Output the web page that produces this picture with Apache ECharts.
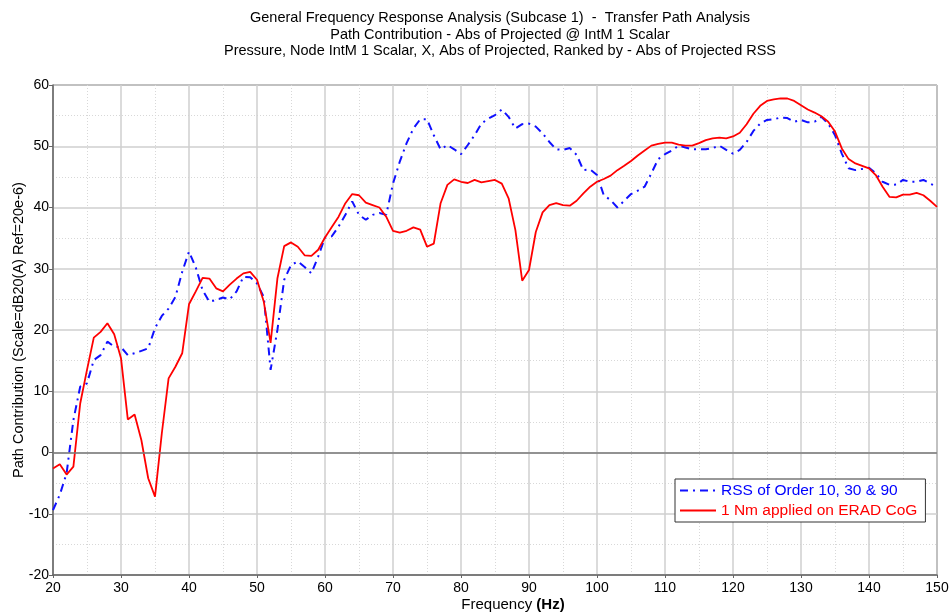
<!DOCTYPE html>
<html>
<head>
<meta charset="utf-8">
<script src="https://cdn.jsdelivr.net/npm/echarts@6/dist/echarts.min.js"></script>
<style>
  html, body { margin: 0; padding: 0; background: #fff; }
  #chart { width: 952px; height: 612px; }
</style>
</head>
<body>
<div id="chart"></div>
<script>
// Frequency samples (Hz)
const freqHz = [
  20, 21, 22, 23, 24, 25, 26, 27, 28, 29,
  30, 31, 32, 33, 34, 35, 36, 37, 38, 39,
  40, 41, 42, 43, 44, 45, 46, 47, 48, 49,
  50, 51, 52, 53, 54, 55, 56, 57, 58, 59,
  60, 61, 62, 63, 64, 65, 66, 67, 68, 69,
  70, 71, 72, 73, 74, 75, 76, 77, 78, 79,
  80, 81, 82, 83, 84, 85, 86, 87, 88, 89,
  90, 91, 92, 93, 94, 95, 96, 97, 98, 99,
  100, 101, 102, 103, 104, 105, 106, 107, 108, 109,
  110, 111, 112, 113, 114, 115, 116, 117, 118, 119,
  120, 121, 122, 123, 124, 125, 126, 127, 128, 129,
  130, 131, 132, 133, 134, 135, 136, 137, 138, 139,
  140, 141, 142, 143, 144, 145, 146, 147, 148, 149,
  150
];

// RSS of Order 10, 30 & 90 (dB)
const rssOrders = [
  -9.4, -6.9, -3.4, 5.3, 10.75, 11.3, 15.1, 15.9, 18.1, 17.3,
  17.2, 15.9, 16.2, 16.6, 17.0, 20.3, 22.3, 23.5, 25.4, 29.5,
  32.8, 30.2, 26.5, 24.6, 24.9, 25.3, 25.0, 26.3, 28.7, 28.6,
  27.6, 25.4, 13.5, 20.0, 28.2, 30.6, 31.2, 30.3, 29.25, 32.0,
  35.1, 35.3, 36.9, 38.8, 41.0, 38.8, 38.0, 38.8, 39.1, 38.8,
  43.9, 47.5, 50.5, 52.9, 54.4, 54.4, 51.8, 49.5, 50.2, 49.5,
  48.7, 50.2, 51.8, 53.7, 54.5, 55.1, 56.0, 54.8, 52.9, 53.6,
  53.7, 53.2, 52.1, 50.7, 49.5, 49.4, 49.7, 48.6, 46.1, 46.2,
  45.3, 42.0, 41.2, 40.0, 41.1, 42.2, 42.75, 43.4, 45.6, 47.9,
  48.7, 49.3, 50.1, 49.8, 49.5, 49.5, 49.5, 49.7, 50.1, 49.4,
  48.8, 49.4, 50.7, 52.5, 53.7, 54.3, 54.4, 54.7, 54.6, 54.0,
  54.3, 53.9, 54.0, 54.8, 53.7, 51.8, 48.8, 46.4, 46.1, 46.3,
  46.5, 45.6, 44.2, 43.7, 43.75, 44.5, 44.2, 44.2, 44.5, 43.9,
  43.4
];

// 1 Nm applied on ERAD CoG (dB)
const erad1Nm = [
  -2.6, -1.9, -3.6, -2.3, 8.0, 13.5, 18.75, 19.7, 21.1, 19.3,
  15.4, 5.4, 6.2, 2.0, -4.2, -7.2, 3.1, 12.1, 14.0, 16.2,
  24.2, 26.3, 28.5, 28.4, 26.8, 26.3, 27.4, 28.4, 29.25, 29.5,
  28.2, 24.6, 17.9, 28.4, 33.7, 34.3, 33.6, 32.2, 32.1, 33.1,
  35.1, 36.8, 38.5, 40.7, 42.2, 42.0, 40.8, 40.4, 40.0, 38.5,
  36.2, 35.9, 36.2, 36.75, 36.4, 33.6, 34.1, 40.7, 43.7, 44.6,
  44.2, 44.0, 44.5, 44.1, 44.3, 44.5, 43.9, 41.5, 36.3, 28.05,
  29.8, 36.0, 39.2, 40.4, 40.7, 40.4, 40.3, 41.1, 42.3, 43.4,
  44.2, 44.65, 45.2, 46.1, 46.8, 47.6, 48.5, 49.3, 50.1, 50.4,
  50.6, 50.6, 50.25, 50.1, 50.1, 50.5, 51.0, 51.3, 51.4, 51.3,
  51.6, 52.2, 53.6, 55.3, 56.6, 57.4, 57.65, 57.8, 57.8, 57.4,
  56.7, 56.0, 55.5, 54.9, 54.0, 52.4, 49.65, 47.9, 47.2, 46.8,
  46.4, 45.3, 43.4, 41.75, 41.65, 42.1, 42.1, 42.4, 42.0, 41.1,
  40.1
];

const seriesNames = ['RSS of Order 10, 30 & 90', '1 Nm applied on ERAD CoG'];
const titleLines = [
  'General Frequency Response Analysis (Subcase 1)  -  Transfer Path Analysis',
  'Path Contribution - Abs of Projected @ IntM 1 Scalar',
  'Pressure, Node IntM 1 Scalar, X, Abs of Projected, Ranked by - Abs of Projected RSS'
];

const FONT = 'Liberation Sans, Arial, sans-serif';
const pairs = (xs, ys) => xs.map((x, i) => [x, ys[i]]);

const chart = echarts.init(document.getElementById('chart'), null, { renderer: 'canvas' });

chart.setOption({
  animation: false,
  backgroundColor: '#ffffff',
  textStyle: { fontFamily: FONT },
  title: {
    text: titleLines.join('\n'),
    left: 495,
    top: 5,
    textAlign: 'center',
    textStyle: { fontFamily: FONT, fontSize: 14.5, fontWeight: 'normal', color: '#000', lineHeight: 16.5 }
  },
  grid: {
    left: 53, right: 15, top: 85, bottom: 37,
    containLabel: false,
    outerBoundsMode: 'none',
    show: true, borderColor: '#333', borderWidth: 1, backgroundColor: 'transparent'
  },
  legend: {
    orient: 'vertical',
    left: 675, top: 479,
    padding: [3, 8, 3, 4],
    itemGap: 3,
    itemWidth: 36, itemHeight: 14,
    backgroundColor: '#fff',
    borderColor: '#333', borderWidth: 1,
    borderRadius: 0,
    itemStyle: { opacity: 0 },
    textStyle: { fontFamily: FONT, fontSize: 15.5, lineHeight: 17 },
    data: [
      { name: seriesNames[0], textStyle: { color: '#0000ff' } },
      { name: seriesNames[1], textStyle: { color: '#ff0000' } }
    ]
  },
  xAxis: {
    type: 'value',
    min: 20, max: 150, interval: 10,
    name: '{a|Frequency }{b|(Hz)}',
    nameLocation: 'middle',
    nameMoveOverlap: false,
    nameGap: 22,
    nameTextStyle: {
      padding: [0, 0, 0, 36],
      rich: {
        a: { fontFamily: FONT, fontSize: 15, color: '#000' },
        b: { fontFamily: FONT, fontSize: 15, color: '#000', fontWeight: 'bold' }
      }
    },
    axisLine: { onZero: false, lineStyle: { color: '#666', width: 1.5 } },
    axisTick: { show: true, length: 3, lineStyle: { color: '#666' } },
    axisLabel: { color: '#000', fontSize: 14, fontFamily: FONT, margin: 6 },
    splitLine: { show: true, lineStyle: { color: '#cfcfcf', width: 1.5 } },
    minorTick: { show: false, splitNumber: 2 },
    minorSplitLine: { show: true, lineStyle: { color: '#d8d8d8', type: [1, 2], width: 1 } }
  },
  yAxis: {
    type: 'value',
    min: -20, max: 60, interval: 10,
    name: 'Path Contribution (Scale=dB20(A) Ref=20e-6)',
    nameLocation: 'middle',
    nameMoveOverlap: false,
    nameGap: 27,
    nameTextStyle: { fontFamily: FONT, fontSize: 14.5, color: '#000' },
    axisLine: { show: true, lineStyle: { color: '#666', width: 1.5 } },
    axisTick: { show: true, length: 4, lineStyle: { color: '#666' } },
    axisLabel: { color: '#000', fontSize: 14, fontFamily: FONT, margin: 4 },
    splitLine: { show: true, lineStyle: { color: '#cfcfcf', width: 1.5 } },
    minorTick: { show: false, splitNumber: 2 },
    minorSplitLine: { show: true, lineStyle: { color: '#d8d8d8', type: [1, 2], width: 1 } }
  },
  series: [
    {
      name: seriesNames[0],
      type: 'line',
      data: pairs(freqHz, rssOrders),
      symbol: 'none',
      z: 3,
      lineStyle: { color: '#1010ff', width: 2, type: [8, 5, 2, 5] },
      itemStyle: { color: '#1010ff' },
      markLine: {
        silent: true,
        symbol: 'none',
        label: { show: false },
        lineStyle: { color: '#7a7a7a', width: 1.5, type: 'solid' },
        data: [{ yAxis: 0 }]
      }
    },
    {
      name: seriesNames[1],
      type: 'line',
      data: pairs(freqHz, erad1Nm),
      symbol: 'none',
      z: 4,
      lineStyle: { color: '#ff0000', width: 1.8, type: 'solid' },
      itemStyle: { color: '#ff0000' }
    }
  ]
});
</script>
</body>
</html>
